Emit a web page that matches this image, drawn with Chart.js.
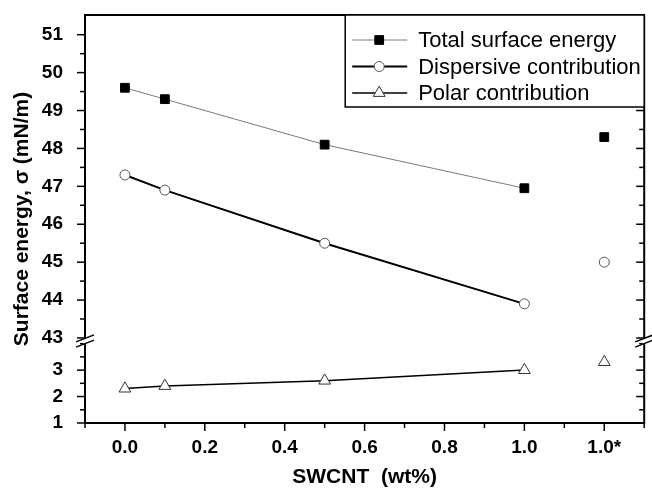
<!DOCTYPE html>
<html lang="en">
  <head>
    <meta charset="utf-8" />
    <title>Surface energy vs SWCNT</title>
    <script src="https://cdn.jsdelivr.net/npm/chart.js@4.4.1/dist/chart.umd.min.js"></script>
    <style>
      html, body { margin: 0; padding: 0; background: #fff; }
      canvas { display: block; }
    </style>
  </head>
  <body>
    <canvas id="myChart" width="652" height="490"></canvas>

    <script>
      // measured series, x = SWCNT content (wt%)
      var swcnt = [0.0, 0.1, 0.5, 1.0];
      var totalEnergy = [49.6, 49.3, 48.1, 46.95];
      var dispersive = [47.3, 46.9, 45.5, 43.9];
      var polar = [2.3, 2.4, 2.6, 3.0];

      // the separate "1.0*" sample, drawn at x = 1.2 without a line
      var starX = 1.2;
      var totalStar = [48.3];
      var dispersiveStar = [45.0];
      var polarStar = [3.3];

      var xTicks = [0.0, 0.2, 0.4, 0.6, 0.8, 1.0, 1.2];
      var xTickLabels = ["0.0", "0.2", "0.4", "0.6", "0.8", "1.0", "1.0*"];
      var upperTicks = [43, 44, 45, 46, 47, 48, 49, 50, 51];
      var lowerTicks = [1, 2, 3];

      var legendLabels = ["Total surface energy", "Dispersive contribution", "Polar contribution"];

      var FONT = '"Liberation Sans", Arial, Helvetica, sans-serif';
      Chart.defaults.font.family = FONT;
      Chart.defaults.color = "#000";

      let pts = (xs, ys) => ys.map((y, i) => ({ x: xs[i], y: y }));

      let totalStyle = {
        borderColor: "#7a7a7a", borderWidth: 1,
        pointStyle: "rect", pointRadius: 6.2,
        pointBackgroundColor: "#000", pointBorderColor: "#000", pointBorderWidth: 1,
      };
      let dispStyle = {
        borderColor: "#000", borderWidth: 2,
        pointStyle: "circle", pointRadius: 5,
        pointBackgroundColor: "#fff", pointBorderColor: "#555", pointBorderWidth: 1,
      };
      let polarStyle = {
        borderColor: "#000", borderWidth: 1.5,
        pointStyle: "triangle", pointRadius: 6.8,
        pointBackgroundColor: "#fff", pointBorderColor: "#333", pointBorderWidth: 1,
      };

      let tickMark = (ctx, x1, y1, x2, y2) => {
        ctx.beginPath();
        ctx.moveTo(x1, y1);
        ctx.lineTo(x2, y2);
        ctx.stroke();
      };

      let withMinor = (majors) => {
        let step = majors.length > 1 ? majors[1] - majors[0] : 1;
        let out = [];
        majors.forEach((v) => {
          out.push({ v: v, major: true });
          out.push({ v: v + step / 2, major: false });
        });
        out.push({ v: majors[0] - step / 2, major: false });
        out.push({ v: majors[majors.length - 1] + step, major: false });
        return out;
      };

      let drawMarker = (ctx, st, x, y) => {
        ctx.fillStyle = st.pointBackgroundColor;
        ctx.strokeStyle = st.pointBorderColor;
        ctx.lineWidth = st.pointBorderWidth;
        Chart.helpers.drawPoint(ctx, {
          pointStyle: st.pointStyle, radius: st.pointRadius,
          borderWidth: st.pointBorderWidth, rotation: 0,
        }, x, y);
      };

      let decorations = {
        id: "decorations",
        afterDraw(chart) {
          let ctx = chart.ctx;
          let a = chart.chartArea;
          let sx = chart.scales.x;
          let yUp = chart.scales.yUpper;
          let yLo = chart.scales.yLower;
          ctx.save();

          // frame
          ctx.strokeStyle = "#000";
          ctx.lineWidth = 2;
          ctx.strokeRect(a.left, a.top, a.right - a.left, a.bottom - a.top);

          // x ticks, outside
          ctx.lineWidth = 1.5;
          withMinor(xTicks).forEach((t) => {
            let px = sx.getPixelForValue(t.v);
            if (px < a.left - 0.5 || px > a.right + 0.5) return;
            tickMark(ctx, px, a.bottom, px, a.bottom + (t.major ? 8 : 5));
          });

          // y ticks, outside on the left and inside on the right
          [[yUp, upperTicks], [yLo, lowerTicks]].forEach(([sc, majors]) => {
            withMinor(majors).forEach((t) => {
              let py = sc.getPixelForValue(t.v);
              if (py < sc.top + 1 || py > sc.bottom + 0.5) return;
              let len = t.major ? 8 : 5;
              tickMark(ctx, a.left - len, py, a.left, py);
              tickMark(ctx, a.right - len, py, a.right, py);
            });
          });

          // axis breaks
          let yb = yUp.bottom;
          [a.left, a.right].forEach((x) => {
            ctx.fillStyle = "#fff";
            ctx.fillRect(x - 2, yb - 2.5, 4, 5);
            ctx.strokeStyle = "#000";
            ctx.lineWidth = 1.5;
            [-2.6, 2.6].forEach((off) => {
              tickMark(ctx, x - 9, yb + off + 3.5, x + 9, yb + off - 3.5);
            });
          });

          // y title
          ctx.save();
          ctx.translate(22, (a.top + a.bottom) / 2);
          ctx.rotate(-Math.PI / 2);
          ctx.fillStyle = "#000";
          ctx.font = "bold 21px " + FONT;
          ctx.textAlign = "center";
          ctx.textBaseline = "middle";
          ctx.fillText("Surface energy, \u03c3 (mN/m)", 0, 0);
          ctx.restore();

          // legend box in the top right corner
          let lw = 299, lh = 92;
          let lx = a.right - lw, ly = a.top;
          ctx.fillStyle = "#fff";
          ctx.fillRect(lx, ly, lw, lh);
          ctx.strokeStyle = "#000";
          ctx.lineWidth = 1.5;
          ctx.strokeRect(lx, ly, lw, lh);
          [totalStyle, dispStyle, polarStyle].forEach((st, i) => {
            let ry = ly + 25 + i * 26.5;
            ctx.strokeStyle = st.borderColor;
            ctx.lineWidth = st.borderWidth;
            tickMark(ctx, lx + 7, ry, lx + 62, ry);
            drawMarker(ctx, st, lx + 34, ry);
            ctx.fillStyle = "#000";
            ctx.font = "22px " + FONT;
            ctx.textAlign = "left";
            ctx.textBaseline = "middle";
            ctx.fillText(legendLabels[i], lx + 73, ry + 1);
          });

          ctx.restore();
        },
      };

      let tickFont = { size: 19, weight: "bold" };

      let fitY = (s) => {
        s.width = 85;
        s.paddingTop = 0;
        s.paddingBottom = 0;
      };

      let chart = new Chart(document.getElementById("myChart"), {
        type: "line",
        data: {
          datasets: [
            Object.assign({ label: legendLabels[0], data: pts(swcnt, totalEnergy), yAxisID: "yUpper" }, totalStyle),
            Object.assign({ label: legendLabels[1], data: pts(swcnt, dispersive), yAxisID: "yUpper" }, dispStyle),
            Object.assign({ label: legendLabels[2], data: pts(swcnt, polar), yAxisID: "yLower" }, polarStyle),
            Object.assign({ label: "star1", data: pts([starX], totalStar), yAxisID: "yUpper", showLine: false }, totalStyle),
            Object.assign({ label: "star2", data: pts([starX], dispersiveStar), yAxisID: "yUpper", showLine: false }, dispStyle),
            Object.assign({ label: "star3", data: pts([starX], polarStar), yAxisID: "yLower", showLine: false }, polarStyle),
          ],
        },
        options: {
          responsive: false,
          animation: false,
          layout: { padding: { left: 0, right: 5, top: 15, bottom: 0 } },
          plugins: { legend: { display: false }, tooltip: { enabled: false } },
          elements: { line: { tension: 0 } },
          scales: {
            x: {
              type: "linear",
              min: -0.1,
              max: 1.3,
              grid: { display: false, drawTicks: false },
              border: { display: false },
              afterBuildTicks: (s) => { s.ticks = xTicks.map((v) => ({ value: v })); },
              afterFit: (s) => {
                s.height = 67;
                s.paddingLeft = 0;
                s.paddingRight = 0;
              },
              ticks: {
                autoSkip: false, maxRotation: 0, padding: 13,
                font: tickFont,
                callback: (v, i) => xTickLabels[i],
              },
              title: {
                display: true,
                text: "SWCNT  (wt%)",
                font: { size: 21, weight: "bold" },
                padding: { top: 0, bottom: 0 },
              },
            },
            yLower: {
              type: "linear",
              position: "left",
              stack: "y",
              stackWeight: 82,
              min: 1,
              max: 4.1,
              grid: { display: false, drawTicks: false },
              border: { display: false },
              afterBuildTicks: (s) => { s.ticks = lowerTicks.map((v) => ({ value: v })); },
              afterFit: fitY,
              ticks: { autoSkip: false, padding: 22, font: tickFont, callback: (v) => String(v) },
            },
            yUpper: {
              type: "linear",
              position: "left",
              stack: "y",
              stackWeight: 326,
              min: 42.92,
              max: 51.52,
              grid: { display: false, drawTicks: false },
              border: { display: false },
              afterBuildTicks: (s) => { s.ticks = upperTicks.map((v) => ({ value: v })); },
              afterFit: fitY,
              ticks: { autoSkip: false, padding: 22, font: tickFont, callback: (v) => String(v) },
            },
          },
        },
        plugins: [decorations],
      });
    </script>
  </body>
</html>
